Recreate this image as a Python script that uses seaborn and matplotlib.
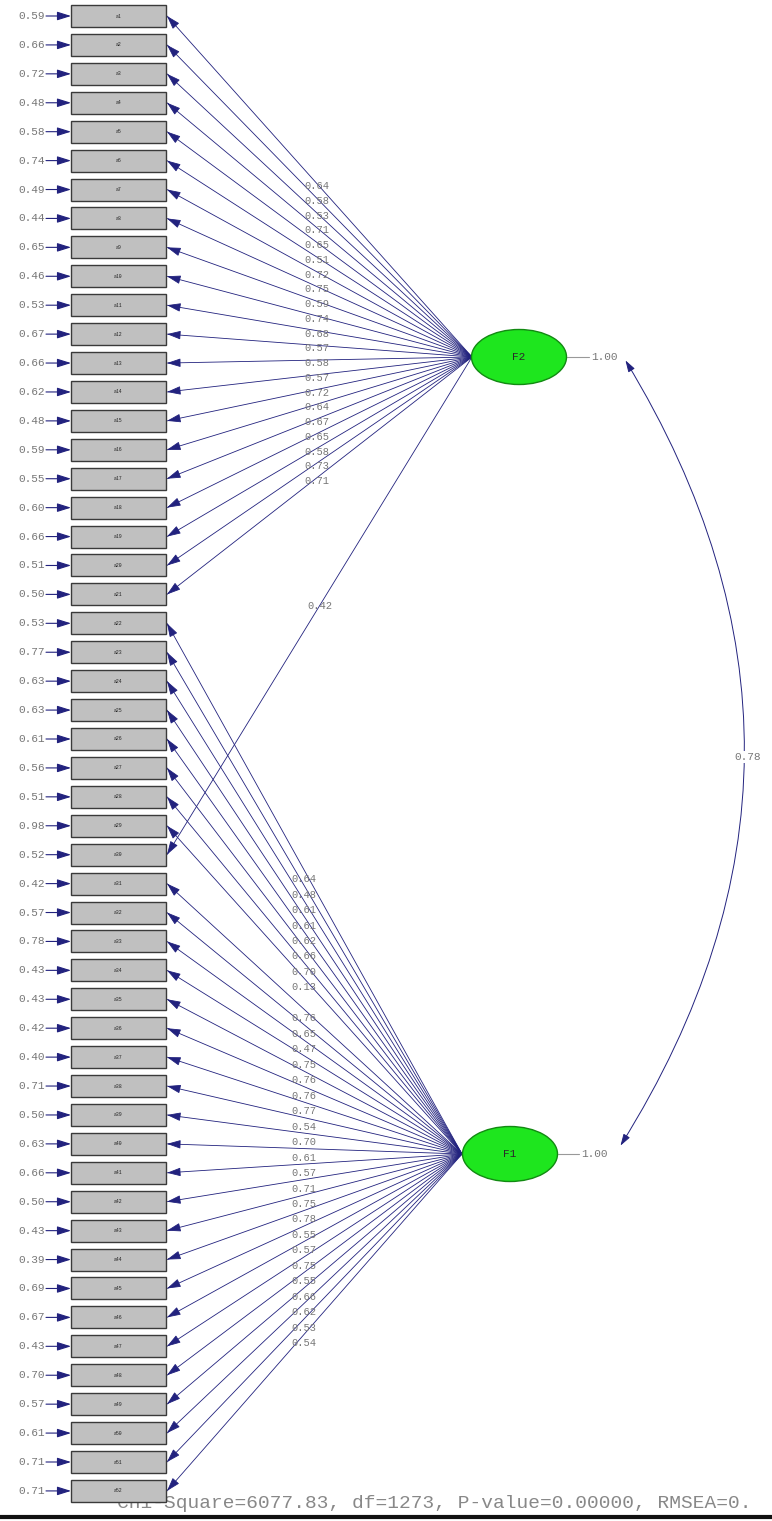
import numpy as np
import pandas as pd
import matplotlib
matplotlib.use("Agg")
import matplotlib.pyplot as plt
import seaborn as sns
from matplotlib.patches import Rectangle, Ellipse, FancyArrowPatch

sns.set_theme(style="white")
plt.rcParams['font.family'] = ['Liberation Mono', 'DejaVu Sans Mono']

# 误差方差（从上到下，52个观测变量）
error_var = [0.59, 0.66, 0.72, 0.48, 0.58, 0.74, 0.49, 0.44, 0.65, 0.46,
             0.53, 0.67, 0.66, 0.62, 0.48, 0.59, 0.55, 0.60, 0.66, 0.51,
             0.50, 0.53, 0.77, 0.63, 0.63, 0.61, 0.56, 0.51, 0.98, 0.52,
             0.42, 0.57, 0.78, 0.43, 0.43, 0.42, 0.40, 0.71, 0.50, 0.63,
             0.66, 0.50, 0.43, 0.39, 0.69, 0.67, 0.43, 0.70, 0.57, 0.61,
             0.71, 0.71]
box_names = ['a%d' % (i + 1) for i in range(52)]

# F2 因子载荷
f2_items = list(range(0, 21))
f2_loads = [0.64, 0.58, 0.53, 0.71, 0.65, 0.51, 0.72, 0.75, 0.59, 0.74,
            0.68, 0.57, 0.58, 0.57, 0.72, 0.64, 0.67, 0.65, 0.58, 0.73, 0.71]

# F1 因子载荷
f1_items = list(range(21, 29)) + list(range(30, 52))
f1_loads = [0.64, 0.48, 0.61, 0.61, 0.62, 0.66, 0.70, 0.13,
            0.76, 0.65, 0.47, 0.75, 0.76, 0.76, 0.77, 0.54, 0.70, 0.61,
            0.57, 0.71, 0.75, 0.78, 0.55, 0.57, 0.75, 0.55, 0.66, 0.62,
            0.53, 0.54]

# 交叉载荷 (F2 -> 第30题)
cross_item = 29
cross_load = 0.42

factor_var = [1.00, 1.00]
factor_corr = 0.78
fit_text = "Chi-Square=6077.83, df=1273, P-value=0.00000, RMSEA=0."

# ---- 布局 ----
W, H = 772, 1521
navy = '#22227e'
txt_gray = '#777777'
row_y = 16 + np.arange(len(error_var)) * 28.92
box_x0, box_x1, box_h = 71, 166, 22
f2_c, f1_c = (519, 357), (510, 1154)
f2_anchor, f1_anchor = (472, 357), (462, 1154)

fig = plt.figure(figsize=(W / 100, H / 100), dpi=100)
ax = fig.add_axes([0, 0, 1, 1])

# 连线数据
rows = []
for k, (i, v) in enumerate(zip(f2_items, f2_loads)):
    rows.append(dict(seg='f2_%d' % k, x=f2_anchor[0], y=f2_anchor[1]))
    rows.append(dict(seg='f2_%d' % k, x=box_x1 + 1, y=row_y[i]))
for k, (i, v) in enumerate(zip(f1_items, f1_loads)):
    rows.append(dict(seg='f1_%d' % k, x=f1_anchor[0], y=f1_anchor[1]))
    rows.append(dict(seg='f1_%d' % k, x=box_x1 + 1, y=row_y[i]))
rows.append(dict(seg='cross', x=f2_anchor[0], y=f2_anchor[1]))
rows.append(dict(seg='cross', x=box_x1 + 1, y=row_y[cross_item]))
seg = pd.DataFrame(rows)
sns.lineplot(data=seg, x='x', y='y', units='seg', estimator=None, sort=False,
             color=navy, lw=0.6, ax=ax, legend=False)


def head(x0, y0, x1, y1):
    # 在终点画箭头
    d = np.hypot(x1 - x0, y1 - y0)
    ux, uy = (x0 - x1) / d, (y0 - y1) / d
    ax.annotate('', xy=(x1, y1), xytext=(x1 + ux * 10, y1 + uy * 10),
                arrowprops=dict(arrowstyle='-|>,head_length=0.7,head_width=0.22',
                                color=navy, lw=0.6, shrinkA=0, shrinkB=0))


def load_label(anchor, i, v, t, dy=0):
    x = anchor[0] + t * (box_x1 + 1 - anchor[0])
    y = anchor[1] + t * (row_y[i] - anchor[1]) + dy
    ax.text(x, y, '%.2f' % v, ha='center', va='center', fontsize=7.5,
            color=txt_gray)


for i, v in zip(f2_items, f2_loads):
    head(f2_anchor[0], f2_anchor[1], box_x1 + 1, row_y[i])
    load_label(f2_anchor, i, v, 0.51, 3)
for i, v in zip(f1_items, f1_loads):
    head(f1_anchor[0], f1_anchor[1], box_x1 + 1, row_y[i])
    load_label(f1_anchor, i, v, 0.535, 9)
head(f2_anchor[0], f2_anchor[1], box_x1 + 1, row_y[cross_item])
load_label(f2_anchor, cross_item, cross_load, 0.5)

# 拟合指标（放在方框下层）
ax.text(117, 1504, fit_text, ha='left', va='center', fontsize=14,
        color='#888888', zorder=2)

# 观测变量方框和误差
for i, (e, nm) in enumerate(zip(error_var, box_names)):
    y = row_y[i]
    ax.add_patch(Rectangle((box_x0, y - box_h / 2), box_x1 - box_x0, box_h,
                           facecolor='#c0c0c0', edgecolor='#3a3a3a', lw=1.0, zorder=3))
    ax.text((box_x0 + box_x1) / 2, y, nm, ha='center', va='center',
            fontsize=3.5, color='#222222', zorder=4)
    ax.annotate('', xy=(box_x0, y), xytext=(46, y),
                arrowprops=dict(arrowstyle='-|>,head_length=0.7,head_width=0.22',
                                color=navy, lw=0.8, shrinkA=0, shrinkB=0))
    ax.text(45, y, '%.2f' % e, ha='right', va='center', fontsize=8, color=txt_gray)

# 潜变量
for c, nm in [(f2_c, 'F2'), (f1_c, 'F1')]:
    ax.add_patch(Ellipse(c, 95, 55, facecolor='#1ee61e', edgecolor='#128a12',
                         lw=1.0, zorder=3))
    ax.text(c[0], c[1], nm, ha='center', va='center', fontsize=8,
            color='#2a2a2a', zorder=4)

# 因子方差
ax.plot([567, 589], [357, 357], color='#999999', lw=0.8)
ax.text(591, 357, '%.2f' % factor_var[1], ha='left', va='center', fontsize=8,
        color=txt_gray)
ax.plot([558, 579], [1154, 1154], color='#999999', lw=0.8)
ax.text(581, 1154, '%.2f' % factor_var[0], ha='left', va='center', fontsize=8,
        color=txt_gray)

# 因子相关
ax.add_patch(FancyArrowPatch((624, 358), (619, 1148),
                             connectionstyle='arc3,rad=-0.31',
                             arrowstyle='<|-|>,head_length=0.7,head_width=0.22',
                             mutation_scale=10, color=navy, lw=0.7))
ax.text(748, 757, '%.2f' % factor_corr, ha='center', va='center', fontsize=8,
        color=txt_gray, bbox=dict(facecolor='white', edgecolor='none', pad=1))

ax.plot([0, W], [1517, 1517], color='#111111', lw=3)

ax.set_xlim(0, W)
ax.set_ylim(H, 0)
ax.axis('off')
fig.savefig('out.png', dpi=100, facecolor='white')
